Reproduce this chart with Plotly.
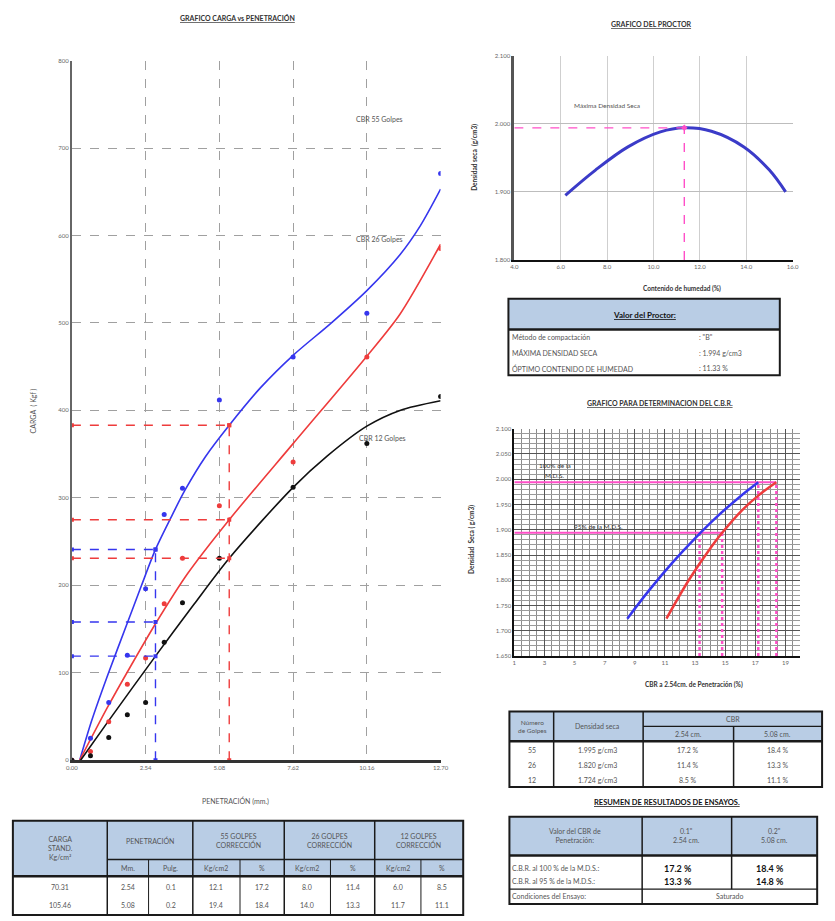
import plotly.graph_objects as go

W, H = 835, 921

# ---------------- Grafico carga vs penetracion ----------------
pen = [0.00, 0.64, 1.27, 1.91, 2.54, 3.18, 3.81, 5.08, 7.62, 10.16, 12.70]
carga_55 = [0, 25, 66, 120, 196, 281, 311, 412, 461, 511, 671]
carga_26 = [0, 10, 44, 87, 117, 179, 231, 291, 341, 461, 585]
carga_12 = [0, 5, 26, 52, 66, 135, 180, 231, 312, 362, 416]

# curvas de ajuste
curva55_x = [0.27, 0.68, 1.22, 1.90, 2.40, 2.88, 3.39, 3.90, 4.60, 5.42, 6.50, 7.62, 8.90, 10.16, 11.30, 12.00, 12.70]
curva55_y = [0, 45, 96, 156, 200, 241, 276, 309, 347, 383, 426, 463, 499, 537, 578, 611, 653]
curva26_x = [0.27, 1.22, 2.00, 2.88, 4.00, 5.42, 7.62, 10.16, 11.30, 12.70]
curva26_y = [0, 60, 106, 156, 214, 275, 362, 462, 510, 590]
curva12_x = [0.30, 1.22, 2.88, 4.20, 5.42, 7.62, 8.80, 10.16, 11.30, 12.70]
curva12_y = [0, 43, 119, 178, 231, 312, 348, 382, 400, 411]

pen_ticks = [0.00, 2.54, 5.08, 7.62, 10.16, 12.70]
pen_corr = [2.88, 5.42]          # penetracion corregida 0.1" y 0.2"
guia_01 = [241, 158, 119]        # 55, 26, 12 golpes
guia_02 = [383, 275, 231]

# ---------------- Proctor ----------------
humedad = [6.2, 7.5, 8.9, 10.3, 11.33, 12.5, 13.9, 15.0, 15.7]
dens_proctor = [1.895, 1.932, 1.966, 1.988, 1.994, 1.989, 1.966, 1.932, 1.900]
mds = 1.994
och = 11.33

# ---------------- Determinacion del CBR ----------------
cbr01_x = [8.5, 10.0, 11.5, 13.0, 14.5, 16.0, 17.2]
cbr01_y = [1.724, 1.782, 1.835, 1.883, 1.927, 1.966, 1.994]
cbr02_x = [11.1, 12.6, 14.1, 14.8, 16.1, 17.3, 18.4]
cbr02_y = [1.724, 1.801, 1.867, 1.894, 1.938, 1.970, 1.994]
cbr_95 = [13.3, 14.8]
cbr_100 = [17.2, 18.4]
dens_95 = 1.894

# ---------------- Tablas ----------------
tabla_head = ["CARGA<br>STAND.<br>Kg/cm²", "PENETRACIÓN", "55 GOLPES<br>CORRECCIÓN",
              "26 GOLPES<br>CORRECCIÓN", "12 GOLPES<br>CORRECCIÓN"]
tabla_sub = ["Mm.", "Pulg.", "Kg/cm2", "%", "Kg/cm2", "%", "Kg/cm2", "%"]
carga_std = ["70.31", "105.46"]
pen_mm = ["2.54", "5.08"]
pen_pulg = ["0.1", "0.2"]
corr_55 = [["12.1", "17.2"], ["19.4", "18.4"]]
corr_26 = [["8.0", "11.4"], ["14.0", "13.3"]]
corr_12 = [["6.0", "8.5"], ["11.7", "11.1"]]

proctor_labels = ["Método de compactación", "MÁXIMA DENSIDAD SECA", "ÓPTIMO CONTENIDO DE HUMEDAD"]
proctor_vals = [': "B"', ": 1.994 g/cm3", ": 11.33 %"]

golpes = ["55", "26", "12"]
dens_seca = ["1.995 g/cm3", "1.820 g/cm3", "1.724 g/cm3"]
cbr_254 = ["17.2 %", "11.4 %", "8.5 %"]
cbr_508 = ["18.4 %", "13.3 %", "11.1 %"]

res_labels = ["C.B.R. al 100 % de la M.D.S.:", "C.B.R. al 95 % de la M.D.S.:", "Condiciones del Ensayo:"]
res_01 = ["17.2 %", "13.3 %"]
res_02 = ["18.4 %", "14.8 %"]
condicion = "Saturado"

BLUE = "#3636ee"
RED = "#ee3c3c"
PINK = "#ff4fc8"
HEAD = "#b9cde5"
TXT = "#555555"


def X(px):
    return px / W


def Y(py):
    return 1 - py / H


shapes = []
annots = []


def rect(x0, y0, x1, y1, fill=None, lw=2, color="#1a1a1a"):
    shapes.append(dict(type="rect", xref="paper", yref="paper", x0=X(x0), x1=X(x1), y0=Y(y1), y1=Y(y0),
                       fillcolor=fill if fill else "rgba(0,0,0,0)", line=dict(color=color, width=lw), layer="above"))


def line(x0, y0, x1, y1, lw=1.2, color="#1a1a1a"):
    shapes.append(dict(type="line", xref="paper", yref="paper", x0=X(x0), x1=X(x1), y0=Y(y0), y1=Y(y1),
                       line=dict(color=color, width=lw), layer="above"))


def txt(px, py, s, size=7, color=TXT, xanchor="center", bold=False, under=False, angle=0):
    f = dict(size=size, color=color)
    if under:
        f["lineposition"] = "under"
    annots.append(dict(xref="paper", yref="paper", x=X(px), y=Y(py), text=("<b>%s</b>" % s) if bold else s,
                       showarrow=False, xanchor=xanchor, yanchor="middle", font=f, align="center",
                       textangle=angle))


fig = go.Figure()

# --- main chart traces ---
for cx, cy, col in [(curva55_x, curva55_y, BLUE), (curva26_x, curva26_y, RED), (curva12_x, curva12_y, "#111111")]:
    fig.add_trace(go.Scatter(x=cx, y=cy, mode="lines", line=dict(color=col, width=1.6, shape="spline", smoothing=0.8),
                             xaxis="x", yaxis="y", hoverinfo="skip"))
for cy, col in [(carga_55, BLUE), (carga_26, RED), (carga_12, "#111111")]:
    fig.add_trace(go.Scatter(x=pen, y=cy, mode="markers", marker=dict(color=col, size=5),
                             xaxis="x", yaxis="y"))

for pc, guias, col in [(pen_corr[0], guia_01, BLUE), (pen_corr[1], guia_02, RED)]:
    for v in guias:
        fig.add_trace(go.Scatter(x=[0, pc], y=[v, v], mode="lines+markers",
                                 line=dict(color=col, width=1.4, dash="dash"),
                                 marker=dict(color=col, size=4, symbol="square"), xaxis="x", yaxis="y"))
    fig.add_trace(go.Scatter(x=[pc, pc], y=[0, max(guias)], mode="lines+markers",
                             line=dict(color=col, width=1.4, dash="dash"),
                             marker=dict(color=col, size=4, symbol="square"), xaxis="x", yaxis="y"))

# --- proctor ---
fig.add_trace(go.Scatter(x=humedad, y=dens_proctor, mode="lines", line=dict(color="#3b3bc8", width=3, shape="spline"),
                         xaxis="x2", yaxis="y2"))
fig.add_trace(go.Scatter(x=[4, och], y=[mds, mds], mode="lines", line=dict(color=PINK, width=1.4, dash="dash"),
                         xaxis="x2", yaxis="y2"))
fig.add_trace(go.Scatter(x=[och, och], y=[1.8, mds], mode="lines", line=dict(color=PINK, width=1.4, dash="dash"),
                         xaxis="x2", yaxis="y2"))
fig.add_trace(go.Scatter(x=[och], y=[mds], mode="markers", marker=dict(color=PINK, size=5, symbol="diamond"),
                         xaxis="x2", yaxis="y2"))

# --- CBR ---
fig.add_trace(go.Scatter(x=[1, max(cbr_100)], y=[mds, mds], mode="lines", line=dict(color=PINK, width=2),
                         xaxis="x3", yaxis="y3"))
fig.add_trace(go.Scatter(x=[1, max(cbr_95)], y=[dens_95, dens_95], mode="lines", line=dict(color=PINK, width=2),
                         xaxis="x3", yaxis="y3"))
for v in cbr_95:
    fig.add_trace(go.Scatter(x=[v, v], y=[1.65, dens_95], mode="lines", line=dict(color=PINK, width=2.5, dash="dot"),
                             xaxis="x3", yaxis="y3"))
for v in cbr_100:
    fig.add_trace(go.Scatter(x=[v, v], y=[1.65, mds], mode="lines", line=dict(color=PINK, width=2.5, dash="dot"),
                             xaxis="x3", yaxis="y3"))
fig.add_trace(go.Scatter(x=cbr01_x, y=cbr01_y, mode="lines", line=dict(color=BLUE, width=2.5, shape="spline"),
                         xaxis="x3", yaxis="y3"))
fig.add_trace(go.Scatter(x=cbr02_x, y=cbr02_y, mode="lines", line=dict(color=RED, width=2.5, shape="spline"),
                         xaxis="x3", yaxis="y3"))

tick = dict(size=6, color="#666")
fig.update_layout(
    width=W, height=H, margin=dict(l=0, r=0, t=0, b=0), autosize=False,
    paper_bgcolor="white", plot_bgcolor="white", showlegend=False,
    font=dict(family="Lato, 'Open Sans', sans-serif", size=7, color=TXT),
    xaxis=dict(domain=[X(67), X(442)], range=[0, 12.7], tickvals=pen_ticks, tickformat=".2f",
               showgrid=True, gridcolor="#a0a0a0", griddash="dash", zeroline=False,
               showline=True, linecolor="#333", linewidth=2.5, tickfont=tick, anchor="y"),
    yaxis=dict(domain=[Y(762), Y(57)], range=[0, 800], dtick=100,
               showgrid=True, gridcolor="#a0a0a0", griddash="dash", zeroline=False,
               showline=True, linecolor="#666", linewidth=2, tickfont=tick, anchor="x"),
    xaxis2=dict(domain=[X(517), X(800)], range=[4, 16], dtick=2, tickformat=".1f",
                showgrid=True, gridcolor="#cfcfcf", zeroline=False,
                showline=True, linecolor="#111", linewidth=2, tickfont=tick, anchor="y2"),
    yaxis2=dict(domain=[Y(258), Y(52)], range=[1.8, 2.1], dtick=0.1, tickformat=".3f",
                showgrid=True, gridcolor="#bdbdbd", zeroline=False,
                showline=True, linecolor="#555", linewidth=3, tickfont=tick, anchor="x2"),
    xaxis3=dict(domain=[X(517), X(808)], range=[1, 20], tickvals=[1, 3, 5, 7, 9, 11, 13, 15, 17, 19],
                showgrid=True, gridcolor="#555", gridwidth=1, zeroline=False,
                minor=dict(dtick=0.5, tick0=1, showgrid=True, gridcolor="#8c8c8c", gridwidth=0.7),
                showline=True, linecolor="#111", linewidth=2, tickfont=tick, anchor="y3"),
    yaxis3=dict(domain=[Y(657), Y(428)], range=[1.65, 2.1], dtick=0.05, tickformat=".3f",
                showgrid=True, gridcolor="#555", gridwidth=1, zeroline=False,
                minor=dict(dtick=0.01, showgrid=True, gridcolor="#9a9a9a", gridwidth=0.6),
                showline=True, linecolor="#111", linewidth=2, tickfont=tick, anchor="x3"),
)

# --- chart titles and labels ---
txt(235, 14, "GRAFICO CARGA vs PENETRACIÓN", size=7, color="#333", bold=True, under=True)
txt(28, 410, "CARGA  ( Kgf )", size=7, angle=-90)
txt(233, 803, "PENETRACIÓN (mm.)", size=7)
annots.append(dict(xref="x", yref="y", x=10.6, y=733, text="CBR 55 Golpes", showarrow=False, font=dict(size=7, color=TXT)))
annots.append(dict(xref="x", yref="y", x=10.6, y=596, text="CBR 26 Golpes", showarrow=False, font=dict(size=7, color=TXT)))
annots.append(dict(xref="x", yref="y", x=10.7, y=368, text="CBR 12 Golpes", showarrow=False, font=dict(size=7, color=TXT)))

txt(657, 20, "GRAFICO DEL PROCTOR", size=7, color="#333", bold=True, under=True)
txt(477, 155, "Densidad seca  (g/cm3)", size=6.5, color="#333", bold=True, angle=-90)
txt(688, 287, "Contenido de humedad (%)", size=6.5, color="#333", bold=True)
annots.append(dict(xref="x2", yref="y2", x=8.0, y=2.027, text="Máxima Densidad Seca", showarrow=False,
                   font=dict(size=6.5, color=TXT)))

txt(665, 402, "GRAFICO PARA DETERMINACION DEL C.B.R.", size=7, color="#333", bold=True, under=True)
txt(474, 540, "Densidad  Seca ( g/cm3)", size=6.5, color="#333", bold=True, angle=-90)
txt(700, 686, "CBR a 2.54cm. de Penetración (%)", size=6.5, color="#333", bold=True)
txt(558, 465, "100% de la", size=6.5, color="#333")
txt(558, 475, "M.D.S.", size=6.5, color="#333")
txt(603, 526, "95% de la M.D.S.", size=6.5, color="#333")

# --- tabla carga / penetracion ---
rect(7, 823, 465, 879, fill=HEAD, lw=0)
rect(7, 823, 465, 918, lw=2)
line(7, 879, 465, 879, lw=2.5)
line(103, 862, 465, 862, lw=1.5)
for vx in [103, 190, 283, 375]:
    line(vx, 823, vx, 918, lw=1.5)
for vx in [145, 238, 330, 422]:
    line(vx, 862, vx, 918, lw=1)
head_cx = [55, 146.5, 236.5, 329, 420]
head_cy = [850, 843, 843, 843, 843]
for s, cx, cy in zip(tabla_head, head_cx, head_cy):
    txt(cx, cy, s, size=7)
sub_cx = [124, 167.5, 214, 260.5, 306.5, 352.5, 398.5, 443.5]
for s, cx in zip(tabla_sub, sub_cx):
    txt(cx, 871, s, size=7)
for i, ry in enumerate([890, 908]):
    row = [pen_mm[i], pen_pulg[i], corr_55[i][0], corr_55[i][1], corr_26[i][0], corr_26[i][1],
           corr_12[i][0], corr_12[i][1]]
    txt(55, ry, carga_std[i], size=7)
    for s, cx in zip(row, sub_cx):
        txt(cx, ry, s, size=7)

# --- tabla proctor ---
rect(511, 297, 787, 328, fill=HEAD, lw=0)
rect(511, 297, 787, 374, lw=2)
line(511, 328, 787, 328, lw=2.5)
txt(649, 313, "Valor del Proctor:", size=8, color="#111", bold=True, under=True)
for lab, val, ry in zip(proctor_labels, proctor_vals, [336, 352, 367]):
    txt(513, ry, lab, size=7, xanchor="left")
    txt(703, ry, val, size=7, xanchor="left")

# --- tabla densidad / CBR ---
rect(512, 713, 830, 743, fill=HEAD, lw=0)
rect(512, 713, 830, 789, lw=2)
line(512, 743, 830, 743, lw=2.5)
line(648, 728, 830, 728, lw=1.2)
for vx in [557, 648]:
    line(vx, 713, vx, 789, lw=1.5)
line(740, 728, 740, 789, lw=1.5)
txt(535, 728, "Número<br>de Golpes", size=6.5)
txt(602, 728, "Densidad seca", size=7)
txt(739, 720, "CBR", size=7)
txt(694, 736, "2.54 cm.", size=7)
txt(785, 736, "5.08 cm.", size=7)
for g, d, a, b, ry in zip(golpes, dens_seca, cbr_254, cbr_508, [752, 767, 782]):
    txt(535, ry, g, size=7)
    txt(602, ry, d, size=7)
    txt(694, ry, a, size=7)
    txt(785, ry, b, size=7)

# --- resumen ---
txt(672, 805, "RESUMEN DE RESULTADOS DE ENSAYOS.", size=7.5, color="#111", bold=True, under=True)
rect(512, 819, 825, 858, fill=HEAD, lw=0)
rect(512, 819, 825, 907, lw=2)
line(512, 858, 825, 858, lw=2.5)
line(512, 892, 825, 892, lw=1.2)
line(647, 819, 647, 907, lw=1.5)
line(738, 819, 738, 892, lw=1.5)
txt(579, 838, "Valor del CBR de<br>Penetración:", size=7)
txt(692, 838, "0.1\"<br>2.54 cm.", size=7)
txt(782, 838, "0.2\"<br>5.08 cm.", size=7)
for lab, ry in zip(res_labels, [871, 884, 899]):
    txt(513, ry, lab, size=7, xanchor="left")
for a, b, ry in zip(res_01, res_02, [871, 884]):
    txt(667, ry, a, size=9, color="#111", bold=True, xanchor="left")
    txt(761, ry, b, size=9, color="#111", bold=True, xanchor="left")
txt(736, 899, condicion, size=7)

fig.update_layout(shapes=shapes, annotations=annots)
# quitar el margen por defecto del <body> para que la hoja ocupe toda la ventana
fig.write_html("out.html", config={"displayModeBar": False},
               post_script="document.body.style.margin='0px';document.body.style.overflow='hidden';")
